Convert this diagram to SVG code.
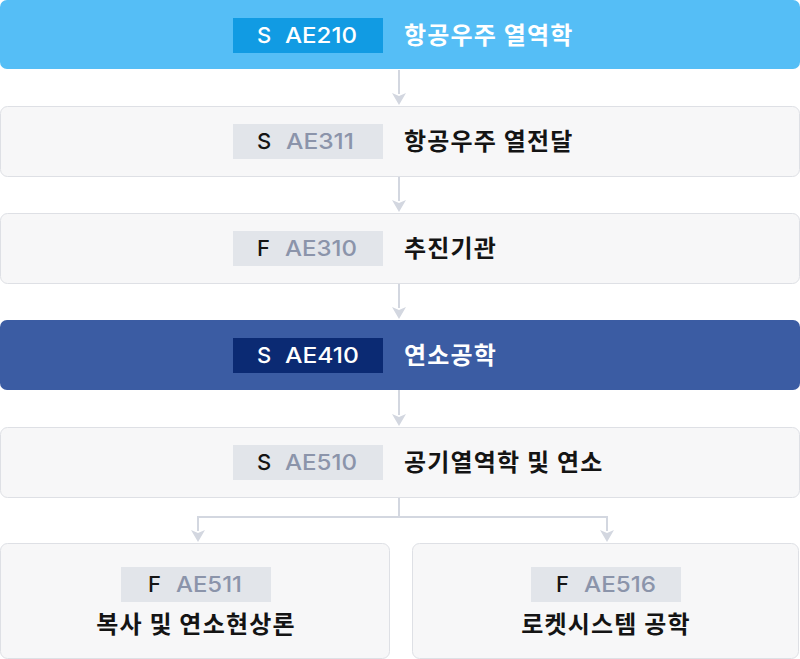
<svg xmlns="http://www.w3.org/2000/svg" width="800" height="659" viewBox="0 0 800 659">
<defs>
<style>
.card{fill:#F7F7F8;stroke:#DEE0E5;stroke-width:1}
.badge{fill:#E2E5EA}
.code{font-family:Inter,"Noto Sans",sans-serif;font-size:22px;font-weight:500}
.sem{fill:#141414}
.num{fill:#8B94AA}
.title{font-family:"Noto Sans CJK KR","Noto Sans",sans-serif;font-size:24px;font-weight:700;fill:#141414;letter-spacing:1.2px}
.white{fill:#FFFFFF}
.conn{fill:none;stroke:#D3D7E0;stroke-width:2}
.head{fill:#D3D7E0}
</style>
</defs>
<g id="connectors">
<line class="conn" x1="399" y1="70" x2="399" y2="94"/>
<path class="head" d="M392,93 L399,96 L406,93 L399,105 Z"/>
<line class="conn" x1="399" y1="177" x2="399" y2="201"/>
<path class="head" d="M392,200 L399,203 L406,200 L399,212 Z"/>
<line class="conn" x1="399" y1="284" x2="399" y2="308"/>
<path class="head" d="M392,307 L399,310 L406,307 L399,319 Z"/>
<line class="conn" x1="399" y1="390" x2="399" y2="415"/>
<path class="head" d="M392,414 L399,417 L406,414 L399,426 Z"/>
<path class="conn" d="M399,498 V517 M198,531 V517 H607 V531"/>
<path class="head" d="M191,530 L198,533 L205,530 L198,542 Z"/>
<path class="head" d="M600,530 L607,533 L614,530 L607,542 Z"/>
</g>
<g id="ae210">
<rect x="0" y="0" width="800" height="69" rx="7" fill="#55BEF6"/>
<rect x="233" y="18" width="150" height="35" fill="#119BE3"/>
<text class="code white" x="257" y="43">S</text>
<text class="code white" x="285" y="43" textLength="72" lengthAdjust="spacingAndGlyphs">AE210</text>
<text class="title white" x="404" y="44">항공우주 열역학</text>
</g>
<g id="ae311">
<rect class="card" x="0.5" y="106.5" width="799" height="70" rx="7"/>
<rect class="badge" x="233" y="124" width="150" height="35"/>
<text class="code sem" x="257" y="149">S</text>
<text class="code num" x="286" y="149" textLength="68" lengthAdjust="spacingAndGlyphs">AE311</text>
<text class="title" x="404" y="150">항공우주 열전달</text>
</g>
<g id="ae310">
<rect class="card" x="0.5" y="213.5" width="799" height="70" rx="7"/>
<rect class="badge" x="233" y="231" width="150" height="35"/>
<text class="code sem" x="257" y="256">F</text>
<text class="code num" x="285" y="256" textLength="72" lengthAdjust="spacingAndGlyphs">AE310</text>
<text class="title" x="404" y="257">추진기관</text>
</g>
<g id="ae410">
<rect x="0" y="320" width="800" height="70" rx="7" fill="#3B5CA3"/>
<rect x="233" y="338" width="150" height="35" fill="#0B2A73"/>
<text class="code white" x="257" y="363">S</text>
<text class="code white" x="285" y="363" textLength="74" lengthAdjust="spacingAndGlyphs">AE410</text>
<text class="title white" x="404" y="364">연소공학</text>
</g>
<g id="ae510">
<rect class="card" x="0.5" y="427.5" width="799" height="70" rx="7"/>
<rect class="badge" x="233" y="445" width="150" height="35"/>
<text class="code sem" x="257" y="470">S</text>
<text class="code num" x="285" y="470" textLength="72" lengthAdjust="spacingAndGlyphs">AE510</text>
<text class="title" x="404" y="471">공기열역학 및 연소</text>
</g>
<g id="ae511">
<rect class="card" x="0.5" y="543.5" width="389" height="115" rx="7"/>
<rect class="badge" x="121" y="567" width="150" height="35"/>
<text class="code sem" x="148" y="592">F</text>
<text class="code num" x="176" y="592" textLength="66" lengthAdjust="spacingAndGlyphs">AE511</text>
<text class="title" x="196" y="633" text-anchor="middle">복사 및 연소현상론</text>
</g>
<g id="ae516">
<rect class="card" x="412.5" y="543.5" width="386" height="115" rx="7"/>
<rect class="badge" x="531" y="567" width="150" height="35"/>
<text class="code sem" x="556" y="592">F</text>
<text class="code num" x="584" y="592" textLength="72" lengthAdjust="spacingAndGlyphs">AE516</text>
<text class="title" x="606" y="633" text-anchor="middle">로켓시스템 공학</text>
</g>
</svg>
